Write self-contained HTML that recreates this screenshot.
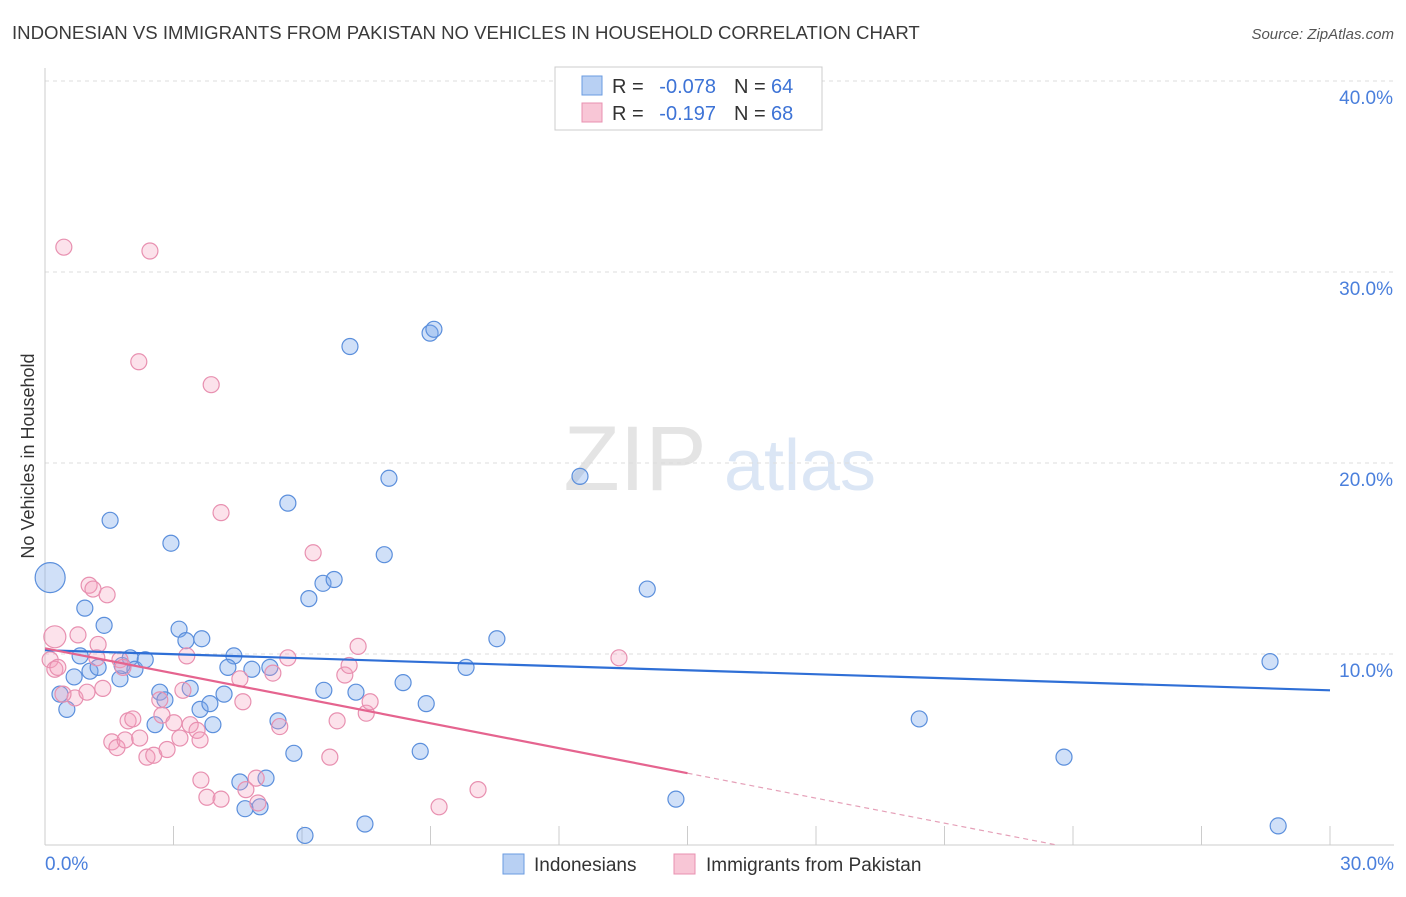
<!DOCTYPE html>
<html><head><meta charset="utf-8"><style>
body{margin:0;background:#fff;font-family:"Liberation Sans",sans-serif;}
svg text{font-family:"Liberation Sans",sans-serif;}
</style></head><body>
<svg id="chart" width="1406" height="892" xmlns="http://www.w3.org/2000/svg">
<text x="12" y="39" font-size="18.6" fill="#3a3a3a">INDONESIAN VS IMMIGRANTS FROM PAKISTAN NO VEHICLES IN HOUSEHOLD CORRELATION CHART</text>
<text x="1394" y="39" font-size="15" fill="#555" text-anchor="end" font-style="italic">Source: ZipAtlas.com</text>
<g>
<text x="635" y="490" font-size="92" fill="#e4e4e4" text-anchor="middle" font-family="Liberation Serif">ZIP</text>
<text x="800" y="490" font-size="72" fill="#dbe6f5" text-anchor="middle">atlas</text>
</g>
<g id="grid"></g>
<g id="axes"></g>
<g id="marks"></g>
<text transform="translate(34,456) rotate(-90)" font-size="18" fill="#333" text-anchor="middle">No Vehicles in Household</text>
<g>
<rect x="555" y="67" width="267" height="63" fill="#fff" stroke="#ccc"/>
<rect x="582" y="76" width="20" height="19" fill="#b8d0f3" stroke="#6a9be0"/>
<rect x="582" y="103" width="20" height="19" fill="#f8c6d6" stroke="#e890b0"/>
<text x="612" y="93" font-size="20" fill="#333">R =</text>
<text x="716" y="93" font-size="20" fill="#3d73d6" text-anchor="end">-0.078</text>
<text x="734" y="93" font-size="20" fill="#333">N =</text>
<text x="771" y="93" font-size="20" fill="#3d73d6">64</text>
<text x="612" y="120" font-size="20" fill="#333">R =</text>
<text x="716" y="120" font-size="20" fill="#3d73d6" text-anchor="end">-0.197</text>
<text x="734" y="120" font-size="20" fill="#333">N =</text>
<text x="771" y="120" font-size="20" fill="#3d73d6">68</text>
</g>
<g>
<rect x="503" y="854" width="21" height="20" fill="#b8d0f3" stroke="#6a9be0"/>
<text x="534" y="871" font-size="19" fill="#333">Indonesians</text>
<rect x="674" y="854" width="21" height="20" fill="#f8c6d6" stroke="#e890b0"/>
<text x="706" y="871" font-size="19" fill="#333">Immigrants from Pakistan</text>
</g>
</svg>
<script>
const yTicks=[10,20,30,40];
const yTickLabels=["10.0%","20.0%","30.0%","40.0%"];
const xTickLabels=["0.0%","30.0%"];
const blueX=[0.12,0.93,1.52,1.38,0.82,0.35,0.51,0.68,1.05,1.24,1.75,1.8,1.99,2.1,2.34,2.94,3.13,3.29,3.66,2.68,2.8,2.57,3.39,3.62,3.85,3.92,4.18,4.41,4.27,4.83,5.25,4.55,4.67,5.02,5.16,5.44,5.67,5.81,6.07,6.16,6.49,6.75,6.51,7.12,7.26,7.47,7.92,8.03,8.36,8.76,8.9,8.99,9.08,9.83,10.55,12.49,14.06,14.73,20.41,23.79,28.6,28.79];
const blueY=[14.0,12.4,17.0,11.5,9.9,7.9,7.1,8.8,9.1,9.3,8.7,9.4,9.8,9.2,9.7,15.8,11.3,10.7,10.8,8.0,7.6,6.3,8.2,7.1,7.4,6.3,7.9,9.9,9.3,9.2,9.3,3.3,1.9,2.0,3.5,6.5,17.9,4.8,0.5,12.9,13.7,13.9,8.1,26.1,8.0,1.1,15.2,19.2,8.5,4.9,7.4,26.8,27.0,9.3,10.8,19.3,13.4,2.4,6.6,4.6,9.6,1.0];
const pinkX=[0.44,2.45,2.19,3.88,4.11,6.26,0.23,0.12,0.23,0.3,0.77,1.03,1.12,1.45,1.24,1.21,1.75,1.82,1.35,0.7,0.42,0.98,1.56,1.68,1.87,1.94,2.05,2.21,2.38,2.54,2.68,2.73,2.85,3.01,3.15,3.22,3.31,3.39,3.55,3.62,3.64,3.78,4.11,4.55,4.62,4.69,4.93,4.97,5.32,5.48,5.67,6.65,6.82,7.0,7.1,7.31,7.5,7.59,9.2,10.11,13.4];
const pinkY=[31.3,31.1,25.3,24.1,17.4,15.3,10.9,9.7,9.2,9.3,11.0,13.6,13.4,13.1,10.5,9.8,9.7,9.3,8.2,7.7,7.9,8.0,5.4,5.1,5.5,6.5,6.6,5.6,4.6,4.7,7.6,6.8,5.0,6.4,5.6,8.1,9.9,6.3,6.0,5.5,3.4,2.5,2.4,8.7,7.5,2.9,3.5,2.2,9.0,6.2,9.8,4.6,6.5,8.9,9.4,10.4,6.9,7.5,2.0,2.9,9.8];
const blueTrend=[10.2,8.1];
const pinkTrend=[10.3,-0.436];
const NS="http://www.w3.org/2000/svg";
const X=v=>45+v*(1285/30), Y=v=>845-v*19.1;
function mk(t,a,p){const e=document.createElementNS(NS,t);for(const k in a)e.setAttribute(k,a[k]);document.getElementById(p).appendChild(e);return e;}
yTicks.forEach((t,i)=>{
 const l=mk('line',{x1:45,x2:1394,y1:Y(t),y2:Y(t),stroke:'#ddd','stroke-dasharray':'4,4'},'grid');
 
 
 const tx=mk('text',{x:1393,y:Y(t)+23,'font-size':19,fill:'#4a7fdc','text-anchor':'end'},'axes');tx.textContent=yTickLabels[i];
 
 
});
const ax=mk('line',{x1:45,x2:1394,y1:845,y2:845,stroke:'#ccc'},'axes');


const ay=mk('line',{x1:45,x2:45,y1:68,y2:845,stroke:'#ccc'},'axes');


for(let i=0;i<=10;i++){const t=mk('line',{x1:X(i*3),x2:X(i*3),y1:826,y2:845,stroke:'#ccc'},'axes');
 
 }
[[0,'start',45],[30,'end',1394]].forEach((d,i)=>{const t=mk('text',{x:d[2],y:870,'font-size':19,fill:'#4a7fdc','text-anchor':d[1]},'axes');t.textContent=xTickLabels[i];
 
 });
blueX.forEach((x,i)=>{const c=mk('circle',{cx:X(x),cy:Y(blueY[i]),r:i==0?15:8,fill:'rgba(120,165,235,0.35)',stroke:'#5b8fdc','stroke-width':1.2},'marks');
 
 });
pinkX.forEach((x,i)=>{const c=mk('circle',{cx:X(x),cy:Y(pinkY[i]),r:i==6?11:8,fill:'rgba(245,160,190,0.3)',stroke:'#e890b0','stroke-width':1.2},'marks');
 
 });
const bl=mk('line',{x1:X(0),y1:Y(blueTrend[0]),x2:X(30),y2:Y(blueTrend[1]),stroke:'#2f6fd6','stroke-width':2.2},'marks');


const pe=(x)=>pinkTrend[0]+pinkTrend[1]*x;
const pl=mk('line',{x1:X(0),y1:Y(pe(0)),x2:X(15),y2:Y(pe(15)),stroke:'#e5648f','stroke-width':2.2},'marks');


const x0=-pinkTrend[0]/pinkTrend[1];
const pd=mk('line',{x1:X(15),y1:Y(pe(15)),x2:X(x0),y2:Y(0),stroke:'#e5a0b8','stroke-width':1.2,'stroke-dasharray':'5,4'},'marks');


</script>
</body></html>
